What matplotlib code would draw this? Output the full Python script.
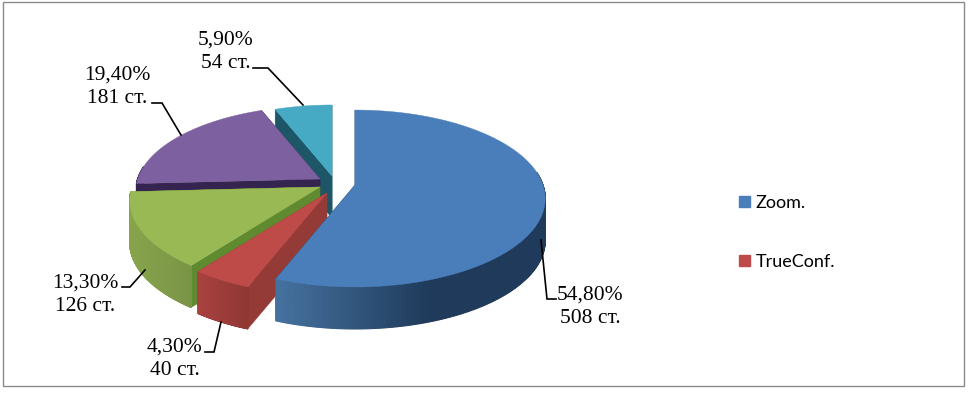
import numpy as np
import matplotlib
matplotlib.use("Agg")
import matplotlib.pyplot as plt
from matplotlib.patches import Polygon, Patch, Rectangle

counts = [508, 40, 126, 181, 54]
percents = ["54,80%", "4,30%", "13,30%", "19,40%", "5,90%"]
legend_names = ["Zoom.", "TrueConf."]

tops = ["#4a7ebb", "#be4b48", "#98b954", "#7d60a0", "#46aac4"]
walls_a = ["#45719f", "#a8423f", "#87a44c", "#35244f", "#2f7d92"]
walls_b = ["#1f3a5a", "#8f3734", "#7a9446", "#35244f", "#1f5c6e"]
faces = ["#1f3a5a", "#943a37", "#5f8a30", "#35244f", "#1c5667"]

# apex of every exploded slice in pixels, radius scale
apex = [(355, 185), (327, 193), (320, 187), (320, 179), (332, 176)]
rscale = [1, 1, 1, 0.97, 0.94]
RX, RY, P, DEPTH = 188, 86.4, 0.1525, 42

label_pos = [(590, 307), (175, 359), (85, 295), (117, 87), (226, 52)]
leaders = [
    [(541, 240), (547, 299), (556, 299)],
    [(221, 322), (214, 352), (205, 352)],
    [(145, 270), (130, 287), (122, 287)],
    [(181, 135), (162, 103), (152, 103)],
    [(303, 105), (268, 68), (253, 68)],
]


def project(ang, centre, s=1.0):
    # clockwise from 12 o'clock, with a bit of perspective
    u, v = np.sin(ang) * s, -np.cos(ang) * s
    d = 1 - P * v
    return centre[0] + RX * u / d, centre[1] + RY * v / d


def mix(c1, c2, t):
    a = np.array(matplotlib.colors.to_rgb(c1))
    b = np.array(matplotlib.colors.to_rgb(c2))
    return a + (b - a) * t


fig = plt.figure(figsize=(9.69, 3.94), dpi=100)
ax = fig.add_axes([0, 0, 1, 1])
ax.set_xlim(0, 969)
ax.set_ylim(394, 0)
ax.axis("off")
ax.add_patch(Rectangle((3, 2), 961, 384, fill=False, ec="#8a8a8a", lw=1))

edges = np.radians(np.cumsum([0] + counts) / sum(counts) * 360)

# back slices first, Zoom goes last
for i in [4, 3, 2, 1, 0]:
    a0, a1 = edges[i], edges[i + 1]
    c, s = apex[i], rscale[i]
    angs = np.linspace(a0, a1, 300)
    rim = [project(a, c, s) for a in angs]

    # cut faces
    for e in (rim[0], rim[-1]):
        ax.add_patch(Polygon([c, e, (e[0], e[1] + DEPTH), (c[0], c[1] + DEPTH)],
                             fc=faces[i], ec=faces[i], lw=0.3))
    # outer wall, shaded along x, only the part facing us
    xs = [p[0] for p in rim]
    for k in range(len(rim) - 1):
        if np.cos(angs[k]) > 0.15:
            continue
        p, q = rim[k], rim[k + 1]
        if i == 0:
            t = np.clip((p[0] - 280) / 150, 0, 1)
        else:
            t = (p[0] - min(xs)) / (max(xs) - min(xs))
        col = mix(walls_a[i], walls_b[i], t)
        ax.add_patch(Polygon([p, q, (q[0], q[1] + DEPTH), (p[0], p[1] + DEPTH)],
                             fc=col, ec=col, lw=0.8))
    ax.add_patch(Polygon([c] + rim, fc=tops[i], ec=tops[i], lw=0.3))

for i in range(len(counts)):
    xs, ys = zip(*leaders[i])
    ax.plot(xs, ys, color="black", lw=1.2, solid_joinstyle="miter")
    ax.text(label_pos[i][0], label_pos[i][1], percents[i] + "\n" + str(counts[i]) + " ст.",
            ha="center", va="center", family="Liberation Serif", fontsize=15.5,
            linespacing=1.28, color="black")

handles = [Patch(fc=tops[i], ec=tops[i]) for i in range(len(legend_names))]
ax.legend(handles, legend_names, loc="upper left", bbox_to_anchor=(739 / 969, 1 - 195 / 394),
          frameon=False, prop={"family": "Lato", "size": 13}, handlelength=0.6,
          handleheight=0.6, handletextpad=0.3, labelspacing=2.38,
          borderpad=0, borderaxespad=0)

fig.savefig("out.png", dpi=100)
